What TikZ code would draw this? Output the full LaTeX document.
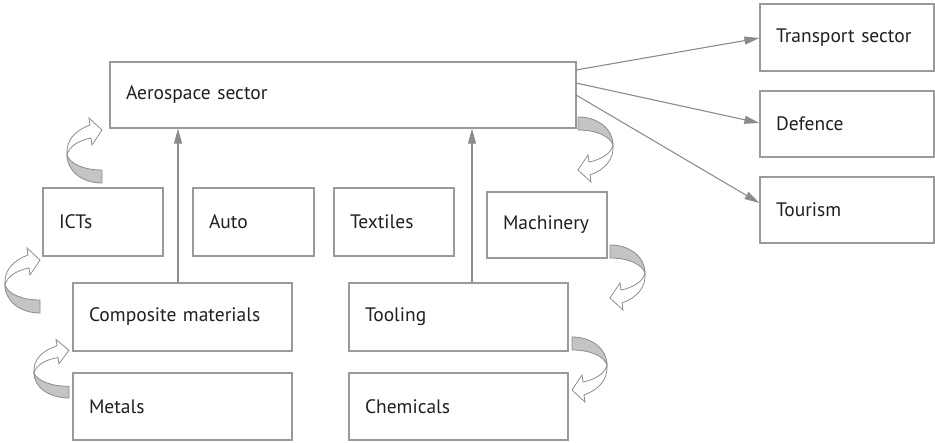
\documentclass[tikz,border=0pt]{standalone}
\usepackage{fontspec}
\setmainfont{PT Sans}
\usetikzlibrary{arrows.meta}
\definecolor{boxgray}{HTML}{9A9A9A}
\definecolor{linegray}{HTML}{8C8C8C}
\definecolor{bandgray}{HTML}{C4C4C4}
\definecolor{txt}{HTML}{231F20}
\tikzset{
  box/.style={draw=boxgray, line width=1.2pt, fill=white, inner xsep=16pt, inner ysep=0pt,
    align=left, font=\fontsize{19.5}{22}\selectfont, text=txt, anchor=center},
  arr/.style={draw=linegray, line width=1.1pt, -{Triangle[length=15pt,width=8pt]}},
  curvarr/.pic={
    \path[fill=bandgray, draw=linegray, line width=0.8pt]
      (0,0) .. controls (20,0) and (35,12) .. (35,28)
            .. controls (32,19) and (18,13) .. (0,13) -- cycle;
    \path[fill=white, draw=linegray, line width=0.8pt]
      (35,28) .. controls (36,42) and (28,52) .. (12,58)
      -- (13,65) -- (0,53) -- (10,38) -- (11,45)
      .. controls (22,43) and (33,37) .. (35,28) -- cycle;
  }
}
\begin{document}
\begin{tikzpicture}[x=1pt,y=-1pt]
\path[use as bounding box] (0,0) rectangle (935,443);
% boxes
\node[box, minimum width=466pt, minimum height=66pt, text width=434pt] (aero) at (343,95) {Aerospace sector};
\node[box, minimum width=174pt, minimum height=67pt, text width=142pt] (trans) at (847,37.5) {Transport sector};
\node[box, minimum width=174pt, minimum height=66pt, text width=142pt] (def) at (847,124) {Defence};
\node[box, minimum width=174pt, minimum height=66pt, text width=142pt] (tour) at (847,210) {Tourism};
\node[box, minimum width=120pt, minimum height=68pt, text width=88pt] (ict) at (103,222) {ICTs};
\node[box, minimum width=121pt, minimum height=68pt, text width=89pt] (auto) at (253.5,222) {Auto};
\node[box, minimum width=120pt, minimum height=68pt, text width=88pt] (tex) at (394,222) {Textiles};
\node[box, minimum width=120pt, minimum height=66pt, text width=88pt] (mach) at (547,225) {Machinery};
\node[box, minimum width=219pt, minimum height=68pt, text width=187pt] (comp) at (182.5,317) {Composite materials};
\node[box, minimum width=219pt, minimum height=67pt, text width=187pt] (met) at (182.5,406.5) {Metals};
\node[box, minimum width=219pt, minimum height=68pt, text width=187pt] (tool) at (458.5,317) {Tooling};
\node[box, minimum width=219pt, minimum height=67pt, text width=187pt] (chem) at (458.5,406.5) {Chemicals};
% straight connectors
\coordinate (xa) at (178,0);
\coordinate (xb) at (472,0);
\draw[arr] (xa |- comp.north) -- (xa |- aero.south);
\draw[arr] (xb |- tool.north) -- (xb |- aero.south);
\coordinate (o1) at (576,70);
\coordinate (o2) at (576,83);
\coordinate (o3) at (576,95);
\draw[arr] (o1) -- (trans.west |- 0,38);
\draw[arr] (o2) -- (def.west |- 0,123);
\draw[arr] (o3) -- (tour.west |- 0,203);
% curved arrows
\pic at (578,117) {curvarr};
\pic at (610,245) {curvarr};
\pic at (572,337) {curvarr};
\pic[rotate=180] at (102,183) {curvarr};
\pic[rotate=180] at (40,313) {curvarr};
\pic[rotate=180, yscale=0.9] at (69,398) {curvarr};
\end{tikzpicture}
\end{document}
